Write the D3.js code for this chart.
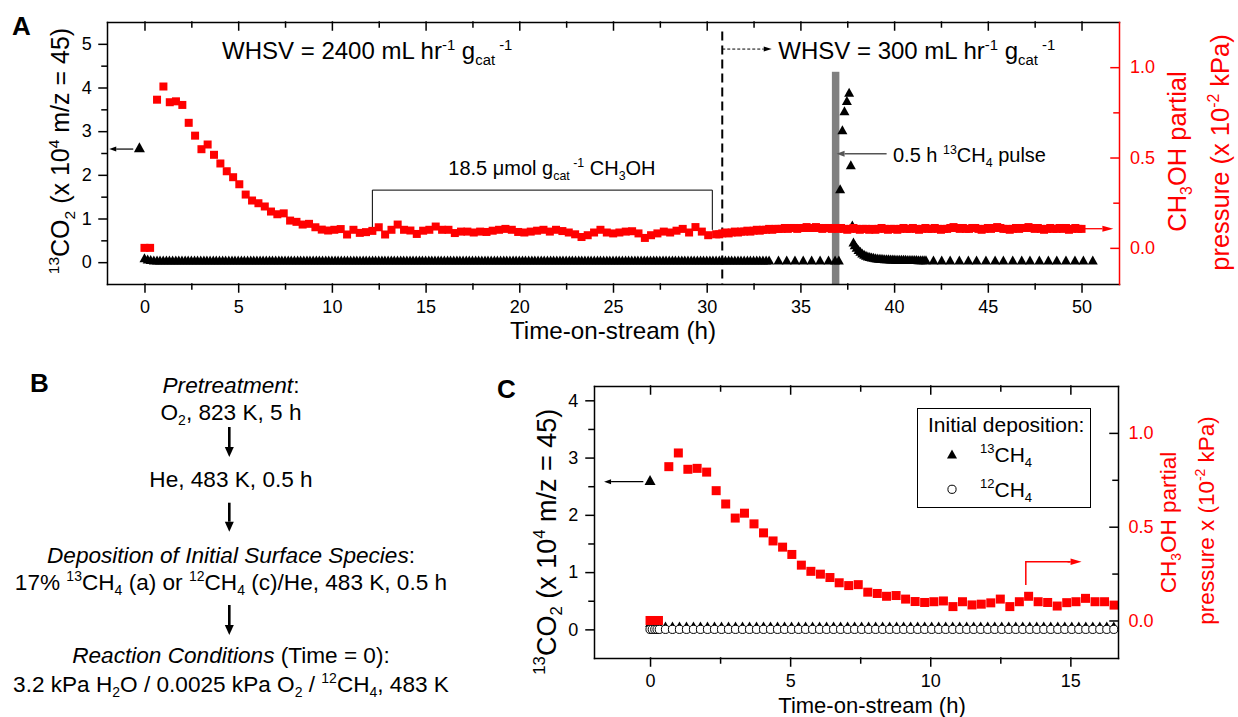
<!DOCTYPE html>
<html><head><meta charset="utf-8">
<script src="https://cdn.jsdelivr.net/npm/d3@7"></script>
<style>body{margin:0;background:#fff}svg{display:block}</style>
</head><body>
<script>
// ---------------- DATA ----------------
// Panel A: 13CO2 signal (x 10^4, m/z = 45), black triangles
const co2A_time = [
0,0.17,0.33,0.5,0.67,0.83,1,1.17,1.33,1.5,1.67,1.83,2,2.17,2.33,2.5,2.67,2.83,3,3.17,3.33,3.5,3.67,3.83,
4,4.17,4.33,4.5,4.67,4.83,5,5.17,5.33,5.5,5.67,5.83,6,6.17,6.33,6.5,6.67,6.83,7,7.17,7.33,7.5,7.67,7.83,
8,8.17,8.33,8.5,8.67,8.83,9,9.17,9.33,9.5,9.67,9.83,10,10.17,10.33,10.5,10.67,10.83,11,11.17,11.33,11.5,11.67,11.83,
12,12.17,12.33,12.5,12.67,12.83,13,13.17,13.33,13.5,13.67,13.83,14,14.17,14.33,14.5,14.67,14.83,15,15.17,15.33,15.5,15.67,15.83,
16,16.17,16.33,16.5,16.67,16.83,17,17.17,17.33,17.5,17.67,17.83,18,18.17,18.33,18.5,18.67,18.83,19,19.17,19.33,19.5,19.67,19.83,
20,20.17,20.33,20.5,20.67,20.83,21,21.17,21.33,21.5,21.67,21.83,22,22.17,22.33,22.5,22.67,22.83,23,23.17,23.33,23.5,23.67,23.83,
24,24.17,24.33,24.5,24.67,24.83,25,25.17,25.33,25.5,25.67,25.83,26,26.17,26.33,26.5,26.67,26.83,27,27.17,27.33,27.5,27.67,27.83,
28,28.17,28.33,28.5,28.67,28.83,29,29.17,29.33,29.5,29.67,29.83,30,30.17,30.33,30.5,30.67,30.83,31,31.17,31.33,31.5,31.67,31.83,
32,32.17,32.33,32.5,32.67,32.83,33,33.17,33.33,
33.83,34.27,34.71,35.15,35.6,36.05,36.5,36.85,37.05,
37.12,37.24,37.35,37.48,37.6,37.69,37.77,37.83,
37.9,38,38.1,38.2,38.3,38.4,38.5,38.6,38.7,38.8,38.9,39,39.1,39.2,39.3,39.4,39.5,39.6,39.7,39.8,
39.9,40,40.1,40.2,40.3,40.4,40.5,40.6,40.7,40.8,40.9,41,41.1,41.2,41.3,41.4,41.5,41.6,41.7,
42.1,42.54,42.99,43.48,43.96,44.4,44.9,45.39,45.83,46.33,46.81,47.25,47.75,48.23,48.68,49.17,49.65,50.1,50.6];
const co2A_value = [
0.1,0.07,0.06,0.05,0.05,0.05,0.05,0.05,0.05,0.05,0.05,0.05,0.05,0.05,0.05,0.05,0.05,0.05,0.05,0.05,0.05,0.05,0.05,0.05,
0.05,0.05,0.05,0.05,0.05,0.05,0.05,0.05,0.05,0.05,0.05,0.05,0.05,0.05,0.05,0.05,0.05,0.05,0.05,0.05,0.05,0.05,0.05,0.05,
0.05,0.05,0.05,0.05,0.05,0.05,0.05,0.05,0.05,0.05,0.05,0.05,0.05,0.05,0.05,0.05,0.05,0.05,0.05,0.05,0.05,0.05,0.05,0.05,
0.05,0.05,0.05,0.05,0.05,0.05,0.05,0.05,0.05,0.05,0.05,0.05,0.05,0.05,0.05,0.05,0.05,0.05,0.05,0.05,0.05,0.05,0.05,0.05,
0.05,0.05,0.05,0.05,0.05,0.05,0.05,0.05,0.05,0.05,0.05,0.05,0.05,0.05,0.05,0.05,0.05,0.05,0.05,0.05,0.05,0.05,0.05,0.05,
0.05,0.05,0.05,0.05,0.05,0.05,0.05,0.05,0.05,0.05,0.05,0.05,0.05,0.05,0.05,0.05,0.05,0.05,0.05,0.05,0.05,0.05,0.05,0.05,
0.05,0.05,0.05,0.05,0.05,0.05,0.05,0.05,0.05,0.05,0.05,0.05,0.05,0.05,0.05,0.05,0.05,0.05,0.05,0.05,0.05,0.05,0.05,0.05,
0.05,0.05,0.05,0.05,0.05,0.05,0.05,0.05,0.05,0.05,0.05,0.05,0.05,0.05,0.05,0.05,0.05,0.05,0.05,0.05,0.05,0.05,0.05,0.05,
0.05,0.05,0.05,0.05,0.05,0.05,0.05,0.05,0.05,
0.05,0.05,0.05,0.05,0.05,0.05,0.05,0.05,0.05,
1.68,3.03,3.47,3.70,3.89,2.23,0.85,0.46,
0.40,0.34,0.29,0.25,0.21,0.18,0.16,0.14,0.13,0.12,0.11,0.10,0.095,0.09,0.087,0.084,0.081,0.078,0.076,0.074,
0.072,0.07,0.069,0.068,0.067,0.066,0.065,0.064,0.063,0.062,0.061,0.06,0.06,0.059,0.058,0.057,0.056,0.055,0.055,
0.05,0.05,0.05,0.05,0.05,0.05,0.05,0.05,0.05,0.05,0.05,0.05,0.05,0.05,0.05,0.05,0.05,0.05,0.05];

// CH3OH partial pressure (x 10^-2 kPa), red squares, WHSV = 2400 (shared by panels A and C)
const ch3oh_time = [0,0.3,0.67,1.01,1.35,1.68,2.02,2.36,2.70,3.04,3.37,3.71,4.05,4.39,4.73,5.06,5.40,5.74,6.08,6.42,6.75,7.09,7.43,7.77,
8.11,8.44,8.78,9.12,9.46,9.80,10.13,10.47,10.81,11.15,11.49,11.82,12.16,12.50,12.84,13.18,13.51,13.85,14.19,14.53,14.87,15.20,15.54,15.88,
16.22,16.56,16.89,17.23,17.57,17.91,18.25,18.58,18.92,19.26,19.60,19.94,20.27,20.61,20.95,21.29,21.63,21.96,22.30,22.64,22.98,23.32,23.65,23.99,
24.33,24.67,25.01,25.34,25.68,26.02,26.36,26.70,27.03,27.37,27.71,28.05,28.39,28.72,29.06,29.40,29.74,30.08];
const ch3oh_value = [0.0,0.0,0.82,0.893,0.806,0.811,0.791,0.692,0.621,0.546,0.572,0.515,0.467,0.424,0.391,0.352,0.295,0.262,0.247,0.229,0.201,0.186,0.191,0.151,
0.144,0.129,0.133,0.114,0.101,0.096,0.10,0.104,0.074,0.10,0.083,0.087,0.094,0.114,0.074,0.10,0.129,0.10,0.096,0.077,0.095,0.10,0.118,0.10,
0.10,0.082,0.09,0.09,0.085,0.09,0.088,0.095,0.10,0.105,0.10,0.088,0.085,0.09,0.095,0.10,0.09,0.10,0.093,0.085,0.075,0.06,0.07,0.085,
0.10,0.085,0.08,0.085,0.09,0.092,0.08,0.055,0.07,0.08,0.09,0.085,0.095,0.105,0.085,0.115,0.09,0.07];

// CH3OH, WHSV = 300 (panel A, after the switch)
const ch3ohLate_time = [30.5,30.67,30.83,
31,31.17,31.33,31.5,31.67,31.83,32,32.17,32.33,32.5,32.67,32.83,33,33.17,33.33,33.5,33.67,33.83,
34,34.17,34.33,34.5,34.67,34.83,35,35.17,35.33,35.5,35.67,35.83,36,36.17,36.33,36.5,36.67,36.83,
37,37.17,37.33,37.5,37.67,37.83,38,38.17,38.33,38.5,38.67,38.83,39,39.17,39.33,39.5,39.67,39.83,
40,40.17,40.33,40.5,40.67,40.83,41,41.17,41.33,41.5,41.67,41.83,42,42.17,42.33,42.5,42.67,42.83,
43,43.17,43.33,43.5,43.67,43.83,44,44.17,44.33,44.5,44.67,44.83,45,45.17,45.33,45.5,45.67,45.83,
46,46.17,46.33,46.5,46.67,46.83,47,47.17,47.33,47.5,47.67,47.83,48,48.17,48.33,48.5,48.67,48.83,
49,49.17,49.33,49.5,49.67,49.83,50];
const ch3ohLate_value = [0.075,0.075,0.08,
0.085,0.08,0.085,0.09,0.085,0.09,0.09,0.095,0.09,0.095,0.1,0.095,0.1,0.1,0.105,0.1,0.105,0.105,
0.105,0.11,0.105,0.11,0.11,0.105,0.11,0.11,0.115,0.11,0.11,0.115,0.11,0.105,0.11,0.11,0.105,0.11,
0.105,0.11,0.105,0.1,0.105,0.11,0.105,0.1,0.105,0.105,0.1,0.105,0.1,0.105,0.11,0.105,0.1,0.105,
0.105,0.1,0.105,0.11,0.105,0.105,0.11,0.105,0.1,0.105,0.11,0.105,0.105,0.11,0.105,0.1,0.105,0.105,
0.11,0.115,0.11,0.105,0.11,0.105,0.105,0.11,0.11,0.105,0.1,0.105,0.11,0.105,0.11,0.115,0.11,0.105,
0.105,0.1,0.105,0.11,0.105,0.11,0.11,0.115,0.11,0.105,0.11,0.105,0.1,0.105,0.11,0.105,0.105,0.11,
0.105,0.11,0.1,0.105,0.11,0.105,0.105];

// Panel C: 13CO2 after 13CH4 deposition (triangles) and 12CH4 deposition (circles)
const timeC = [0,0.08,0.17,0.25,0.33,
0.55,0.8,1.05,1.3,1.55,1.8,2.05,2.3,2.55,2.8,3.05,3.3,3.55,3.8,4.05,4.3,4.55,4.8,5.05,5.3,5.55,5.8,6.05,6.3,6.55,6.8,
7.05,7.3,7.55,7.8,8.05,8.3,8.55,8.8,9.05,9.3,9.55,9.8,10.05,10.3,10.55,10.8,11.05,11.3,11.55,11.8,12.05,12.3,12.55,12.8,
13.05,13.3,13.55,13.8,14.05,14.3,14.55,14.8,15.05,15.3,15.55,15.8,16.05,16.3,16.55];
const co2C_13CH4 = [0.12,0.15,0.13,0.1,0.08,
0.06,0.06,0.06,0.06,0.06,0.06,0.06,0.06,0.06,0.06,0.06,0.06,0.06,0.06,0.06,0.06,0.06,0.06,0.06,0.06,0.06,0.06,0.06,0.06,0.06,0.06,
0.06,0.06,0.06,0.06,0.06,0.06,0.06,0.06,0.06,0.06,0.06,0.06,0.06,0.06,0.06,0.06,0.06,0.06,0.06,0.06,0.06,0.06,0.06,0.06,
0.06,0.06,0.06,0.06,0.06,0.06,0.06,0.06,0.06,0.06,0.06,0.06,0.06,0.06,0.06];
const co2C_12CH4 = [0,0,0,0,0,
0,0,0,0,0,0,0,0,0,0,0,0,0,0,0,0,0,0,0,0,0,0,0,0,0,0,
0,0,0,0,0,0,0,0,0,0,0,0,0,0,0,0,0,0,0,0,0,0,0,0,
0,0,0,0,0,0,0,0,0,0,0,0,0,0,0];

// Tick values
const xTicksA = [0,5,10,15,20,25,30,35,40,45,50];
const xMinorA = [2.5,7.5,12.5,17.5,22.5,27.5,32.5,37.5,42.5,47.5];
const yTicksA = [0,1,2,3,4,5];
const yMinorA = [0.5,1.5,2.5,3.5,4.5];
const rTicks = [0,0.5,1.0];
const rMinor = [0.25,0.75];
const xTicksC = [0,5,10,15];
const xMinorC = [2.5,7.5,12.5];
const yTicksC = [0,1,2,3,4];
const yMinorC = [0.5,1.5,2.5,3.5];

// ---------------- DRAWING ----------------
const FONT = "'Liberation Sans', Arial, Helvetica, sans-serif";
const RED = '#ff0000';
const svg = d3.select('body').append('svg').attr('width',1238).attr('height',717)
  .attr('font-family',FONT);
svg.append('rect').attr('width',1238).attr('height',717).attr('fill','#fff');

const sup = t => ({t, sup:true});
const sub = t => ({t, sub:true});
const ital = t => ({t, i:true});

function rich(g, x, y, parts, size, o = {}) {
  const t = g.append('text').attr('x',x).attr('y',y).attr('font-size',size)
    .attr('fill',o.fill||'#000');
  if (o.anchor) t.attr('text-anchor',o.anchor);
  if (o.transform) t.attr('transform',o.transform);
  if (o.bold) t.attr('font-weight','bold');
  let cur = 0;
  parts.forEach(p => {
    const q = typeof p === 'string' ? {t:p} : p;
    let target = 0, fs = size;
    if (q.sup) { target = -(o.supOff||0.40)*size; fs = size*(o.scale||0.62); }
    if (q.sub) { target = (o.subOff||0.24)*size; fs = size*(o.scale||0.62); }
    const ts = t.append('tspan').text(q.t).attr('font-size',fs);
    if (target-cur !== 0) ts.attr('dy',target-cur);
    if (q.i) ts.attr('font-style','italic');
    cur = target;
  });
  return t;
}

function arrow(g, x1, y1, x2, y2, o = {}) {
  const color = o.color||'#000', w = o.width||1.2, hl = o.headLen||8, hw = o.headW||6;
  const ang = Math.atan2(y2-y1, x2-x1);
  const bx = x2 - hl*Math.cos(ang), by = y2 - hl*Math.sin(ang);
  const ln = g.append('line').attr('x1',x1).attr('y1',y1).attr('x2',bx).attr('y2',by)
    .attr('stroke',color).attr('stroke-width',w);
  if (o.dash) ln.attr('stroke-dasharray',o.dash);
  const px = -Math.sin(ang)*hw/2, py = Math.cos(ang)*hw/2;
  g.append('path').attr('d',`M${x2},${y2}L${bx+px},${by+py}L${bx-px},${by-py}Z`).attr('fill',color);
}

const tri = (w,h) => `M0,${-h/2}L${w/2},${h/2}L${-w/2},${h/2}Z`;

function axes(g, box, x, yL, yR, cfg) {
  const mk = (axis, tr, color) => {
    const a = g.append('g').attr('transform',tr).call(axis)
      .attr('font-size',18).attr('font-family',FONT).attr('color',color||'#000');
    a.selectAll('line,path').attr('stroke-width',1.5).attr('stroke-linecap','square');
    return a;
  };
  const noDom = a => a.select('.domain').remove();
  mk(d3.axisBottom(x).tickValues(cfg.xMajor).tickSize(8).tickSizeOuter(0).tickPadding(cfg.xPad).tickFormat(d3.format('d')), `translate(0,${box.b})`);
  noDom(mk(d3.axisBottom(x).tickValues(cfg.xMinor).tickSize(5).tickFormat(''), `translate(0,${box.b})`));
  mk(d3.axisTop(x).tickValues(cfg.xMajor).tickSize(-8).tickSizeOuter(0).tickFormat(''), `translate(0,${box.t})`);
  noDom(mk(d3.axisTop(x).tickValues(cfg.xMinor).tickSize(-5).tickFormat(''), `translate(0,${box.t})`));
  mk(d3.axisLeft(yL).tickValues(cfg.yMajor).tickSize(8).tickSizeOuter(0).tickPadding(cfg.yPad).tickFormat(d3.format('d')), `translate(${box.l},0)`);
  noDom(mk(d3.axisLeft(yL).tickValues(cfg.yMinor).tickSize(5).tickFormat(''), `translate(${box.l},0)`));
  const r = mk(d3.axisRight(yR).tickValues(cfg.rMajor).tickSize(-8).tickSizeOuter(0).tickPadding(cfg.rPad).tickFormat(d3.format('.1f')), `translate(${box.r},0)`, cfg.rColor);
  r.selectAll('text').attr('fill',RED);
  noDom(mk(d3.axisRight(yR).tickValues(cfg.rMinor).tickSize(-5).tickFormat(''), `translate(${box.r},0)`, cfg.rColor));
}

// ======== Panel A ========
const A = {l:107, r:1119, t:22, b:284};
const xA = d3.scaleLinear().domain([-2,52]).range([A.l,A.r]);
const yA = d3.scaleLinear().domain([-0.5,5.5]).range([A.b,A.t]);
const yAR = d3.scaleLinear().domain([-0.2,1.25]).range([A.b,A.t]);
const gA = svg.append('g');
svg.append('clipPath').attr('id','clipA').append('rect').attr('x',A.l).attr('y',A.t).attr('width',A.r-A.l).attr('height',A.b-A.t);

// pulse bar
gA.append('rect').attr('x',xA(36.68)).attr('width',xA(37.08)-xA(36.68))
  .attr('y',yA(4.36)).attr('height',A.b-yA(4.36)).attr('fill','#808080');
// WHSV switch dashed line
gA.append('line').attr('x1',xA(30.83)).attr('x2',xA(30.83)).attr('y1',yA(5.28)).attr('y2',A.b)
  .attr('stroke','#000').attr('stroke-width',2).attr('stroke-dasharray','9,5');
// bracket
gA.append('path').attr('d',`M${xA(12.16)},${yA(0.74)}V${yA(1.65)}H${xA(30.30)}V${yA(0.74)}`)
  .attr('fill','none').attr('stroke','#000').attr('stroke-width',1);

const mA = gA.append('g').attr('clip-path','url(#clipA)');
mA.selectAll('path.tri').data(d3.range(co2A_time.length)).enter().append('path')
  .attr('d',tri(10,9)).attr('transform',i=>`translate(${xA(co2A_time[i])},${yA(co2A_value[i])})`).attr('fill','#000');
const sqA = 8;
mA.selectAll('rect.s1').data(d3.range(ch3oh_time.length)).enter().append('rect')
  .attr('x',i=>xA(ch3oh_time[i])-sqA/2).attr('y',i=>yAR(ch3oh_value[i])-sqA/2).attr('width',sqA).attr('height',sqA).attr('fill',RED);
mA.selectAll('rect.s2').data(d3.range(ch3ohLate_time.length)).enter().append('rect')
  .attr('x',i=>xA(ch3ohLate_time[i])-sqA/2).attr('y',i=>yAR(ch3ohLate_value[i])-sqA/2).attr('width',sqA).attr('height',sqA).attr('fill',RED);

axes(gA, A, xA, yA, yAR, {xMajor:xTicksA, xMinor:xMinorA, yMajor:yTicksA, yMinor:yMinorA,
  rMajor:rTicks, rMinor:rMinor, xPad:8.5, yPad:7.3, rPad:11, rColor:RED});

// annotations A
rich(gA, xA(4.14), yA(4.65), ['WHSV = 2400 mL hr', sup('-1'), ' g', sub('cat'), sup(' -1')], 24);
rich(gA, xA(33.82), yA(4.65), ['WHSV = 300 mL hr', sup('-1'), ' g', sub('cat'), sup(' -1')], 24);
arrow(gA, xA(30.83), yA(4.88), xA(33.47), yA(4.88), {width:1, dash:'3,2', headLen:8, headW:5});
rich(gA, xA(16.21), yA(2.0), ['18.5 \u03bcmol g', sub('cat'), sup(' -1'), ' CH', sub('3'), 'OH'], 20);
arrow(gA, xA(39.6), yA(2.48), xA(36.93), yA(2.48), {color:'#555', width:1.5, headLen:8, headW:6});
rich(gA, xA(39.94), yA(2.30), ['0.5 h ', sup('13'), 'CH', sub('4'), ' pulse'], 20);
gA.append('path').attr('d',tri(11,10)).attr('transform',`translate(${xA(-0.27)},${yA(2.63)})`).attr('fill','#000');
arrow(gA, xA(-0.6), yA(2.59), xA(-1.88), yA(2.59), {width:1.2, headLen:7, headW:5});
arrow(gA, xA(50), yAR(0.106), xA(51.7), yAR(0.106), {color:RED, width:1.3, headLen:11, headW:6});

// axis titles A
rich(gA, 0, 0, [sup('13'), 'CO', sub('2'), ' (x 10', sup('4'), ' m/z = 45)'], 25,
  {anchor:'middle', transform:'translate(68.5,151) rotate(-90)'});
rich(gA, 0, 0, ['CH', sub('3'), 'OH partial'], 25.5,
  {anchor:'middle', fill:RED, transform:'translate(1186,151.5) rotate(-90)'});
rich(gA, 0, 0, ['pressure (x 10', sup('-2'), ' kPa)'], 25.5,
  {anchor:'middle', fill:RED, transform:'translate(1229,152.5) rotate(-90)'});
rich(gA, (A.l+A.r)/2, 339, ['Time-on-stream (h)'], 24.2, {anchor:'middle'});
rich(svg, 12, 35, ['A'], 26, {bold:true});

// ======== Panel B ========
const gB = svg.append('g');
rich(gB, 30, 391.5, ['B'], 26, {bold:true});
const bx = 231;
const fsB = 22.6;
rich(gB, bx, 393.3, [ital('Pretreatment'), ':'], fsB, {anchor:'middle'});
rich(gB, bx, 420, ['O', sub('2'), ', 823 K, 5 h'], fsB, {anchor:'middle'});
rich(gB, bx, 486.7, ['He, 483 K, 0.5 h'], fsB, {anchor:'middle'});
rich(gB, bx, 562.7, [ital('Deposition of Initial Surface Species'), ':'], fsB, {anchor:'middle'});
rich(gB, bx, 590, ['17% ', sup('13'), 'CH', sub('4'), ' (a) or ', sup('12'), 'CH', sub('4'), ' (c)/He, 483 K, 0.5 h'], fsB, {anchor:'middle'});
rich(gB, bx, 663.3, [ital('Reaction Conditions'), ' (Time = 0):'], fsB, {anchor:'middle'});
rich(gB, bx, 691.7, ['3.2 kPa H', sub('2'), 'O / 0.0025 kPa O', sub('2'), ' / ', sup('12'), 'CH', sub('4'), ', 483 K'], fsB, {anchor:'middle'});
arrow(gB, 229.3, 427, 229.3, 457, {width:2.6, headLen:10, headW:9});
arrow(gB, 229.3, 502.7, 229.3, 531.7, {width:2.6, headLen:10, headW:9});
arrow(gB, 229.3, 605, 229.3, 635, {width:2.6, headLen:10, headW:9});

// ======== Panel C ========
const C = {l:594, r:1118, t:386, b:658};
const xC = d3.scaleLinear().domain([-2,16.7]).range([C.l,C.r]);
const yC = d3.scaleLinear().domain([-0.5,4.25]).range([C.b,C.t]);
const yCR = d3.scaleLinear().domain([-0.2,1.25]).range([C.b,C.t]);
const gC = svg.append('g');
svg.append('clipPath').attr('id','clipC').append('rect').attr('x',C.l).attr('y',C.t).attr('width',C.r-C.l).attr('height',C.b-C.t);
const mC = gC.append('g').attr('clip-path','url(#clipC)');
mC.selectAll('path.t').data(d3.range(timeC.length)).enter().append('path')
  .attr('d',tri(10,9)).attr('transform',i=>`translate(${xC(timeC[i])},${yC(co2C_13CH4[i])})`).attr('fill','#000');
mC.selectAll('circle').data(d3.range(timeC.length)).enter().append('circle')
  .attr('cx',i=>xC(timeC[i])).attr('cy',i=>yC(co2C_12CH4[i])).attr('r',4.1)
  .attr('fill','#fff').attr('stroke','#000').attr('stroke-width',1);
const sqC = 9;
mC.selectAll('rect.s').data(d3.range(ch3oh_time.length)).enter().append('rect')
  .attr('x',i=>xC(ch3oh_time[i])-sqC/2).attr('y',i=>yCR(ch3oh_value[i])-sqC/2).attr('width',sqC).attr('height',sqC).attr('fill',RED);

axes(gC, C, xC, yC, yCR, {xMajor:xTicksC, xMinor:xMinorC, yMajor:yTicksC, yMinor:yMinorC,
  rMajor:rTicks, rMinor:rMinor, xPad:8.2, yPad:7.7, rPad:10.6, rColor:'#000'});

// annotations C
gC.append('path').attr('d',tri(11,10)).attr('transform',`translate(${xC(0)},${yC(2.61)})`).attr('fill','#000');
arrow(gC, xC(-0.24), yC(2.58), xC(-1.64), yC(2.58), {width:1.2, headLen:7, headW:5});
gC.append('path').attr('d',`M${xC(13.41)},${yCR(0.189)}V${yCR(0.313)}H${xC(15.0)}`)
  .attr('fill','none').attr('stroke',RED).attr('stroke-width',1.5);
arrow(gC, xC(14.9), yCR(0.313), xC(15.40), yCR(0.313), {color:RED, width:1.5, headLen:11, headW:6.5});

// legend
const lg = gC.append('g');
lg.append('rect').attr('x',917.5).attr('y',408.5).attr('width',173).attr('height',99)
  .attr('fill','#fff').attr('stroke','#000').attr('stroke-width',1);
rich(lg, 928, 431.5, ['Initial deposition:'], 21);
lg.append('path').attr('d',tri(10,9)).attr('transform','translate(952,454)').attr('fill','#000');
rich(lg, 980, 461.7, [sup('13'), 'CH', sub('4')], 21);
lg.append('circle').attr('cx',952).attr('cy',489.3).attr('r',4.1).attr('fill','#fff').attr('stroke','#000');
rich(lg, 980, 496.7, [sup('12'), 'CH', sub('4')], 21);

// axis titles C
rich(gC, 0, 0, [sup('13'), 'CO', sub('2'), ' (x 10', sup('4'), ' m/z = 45)'], 27,
  {anchor:'middle', transform:'translate(556,541.7) rotate(-90)'});
rich(gC, 0, 0, ['CH', sub('3'), 'OH partial'], 22.5,
  {anchor:'middle', fill:RED, transform:'translate(1176,522.5) rotate(-90)'});
rich(gC, 0, 0, ['pressure x (10', sup('-2'), ' kPa)'], 22.5,
  {anchor:'middle', fill:RED, transform:'translate(1214,520.5) rotate(-90)'});
rich(gC, 872, 713, ['Time-on-stream (h)'], 22, {anchor:'middle'});
rich(svg, 497, 398, ['C'], 26, {bold:true});
</script>
</body></html>
